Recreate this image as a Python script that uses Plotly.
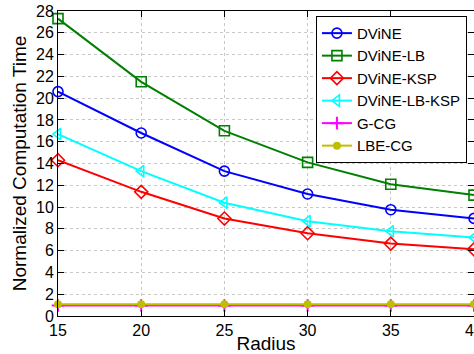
import plotly.graph_objects as go

radius = [15, 20, 25, 30, 35, 40]
dvine = [20.6, 16.8, 13.3, 11.2, 9.76, 8.96]
dvine_lb = [27.3, 21.5, 17.0, 14.1, 12.1, 11.1]
dvine_ksp = [14.3, 11.4, 8.95, 7.6, 6.65, 6.12]
dvine_lb_ksp = [16.7, 13.3, 10.4, 8.7, 7.77, 7.2]
g_cg = [0.96, 0.96, 0.96, 0.96, 0.96, 0.96]
lbe_cg = [1.08, 1.08, 1.08, 1.08, 1.08, 1.08]

series = [
    ("DViNE", dvine, "#0000ff", "circle-open"),
    ("DViNE-LB", dvine_lb, "#008000", "square-open"),
    ("DViNE-KSP", dvine_ksp, "#ff0000", "diamond-open"),
    ("DViNE-LB-KSP", dvine_lb_ksp, "#00ffff", "triangle-left-open"),
    ("G-CG", g_cg, "#ff00ff", "cross-thin-open"),
    ("LBE-CG", lbe_cg, "#bfbf00", "circle"),
]

fig = go.Figure()
for name, ys, col, sym in series:
    msize = 10
    mline = 1.6
    if name == "G-CG":
        msize = 9
        mline = 2
    if name == "LBE-CG":
        msize = 8
        mline = 0
    fig.add_trace(go.Scatter(
        x=radius, y=ys, name=name, mode="lines+markers",
        line=dict(color=col, width=2),
        marker=dict(symbol=sym, size=msize, color=col, line=dict(color=col, width=mline)),
        cliponaxis=False,
    ))

axis_common = dict(
    showline=True, linecolor="black", linewidth=1, mirror="ticks",
    ticks="inside", ticklen=6, tickcolor="black",
    showgrid=True, gridcolor="#c8c8c8", griddash="dot", gridwidth=1,
    zeroline=False, automargin=False,
    tickfont=dict(family="Liberation Sans, Arial", size=16, color="black"),
    title_font=dict(family="Liberation Sans, Arial", size=19, color="black"),
)

fig.update_xaxes(range=[15, 40], tickvals=[15, 20, 25, 30, 35, 40],
                 title_text="Radius", title_standoff=0,
                 ticklabeloverflow="allow", **axis_common)
fig.update_yaxes(range=[0, 28], dtick=2, title_text="Normalized Computation Time",
                 title_standoff=4, **axis_common)

fig.update_layout(
    width=474, height=354,
    margin=dict(l=58, r=0, t=11, b=38),
    plot_bgcolor="white", paper_bgcolor="white",
    showlegend=True,
    legend=dict(
        x=0.62, y=0.984, xanchor="left", yanchor="top",
        bgcolor="white", bordercolor="black", borderwidth=1,
        font=dict(family="Liberation Sans, Arial", size=15, color="black"),
        itemwidth=30, tracegroupgap=0,
    ),
)

fig.write_html("out.html")
